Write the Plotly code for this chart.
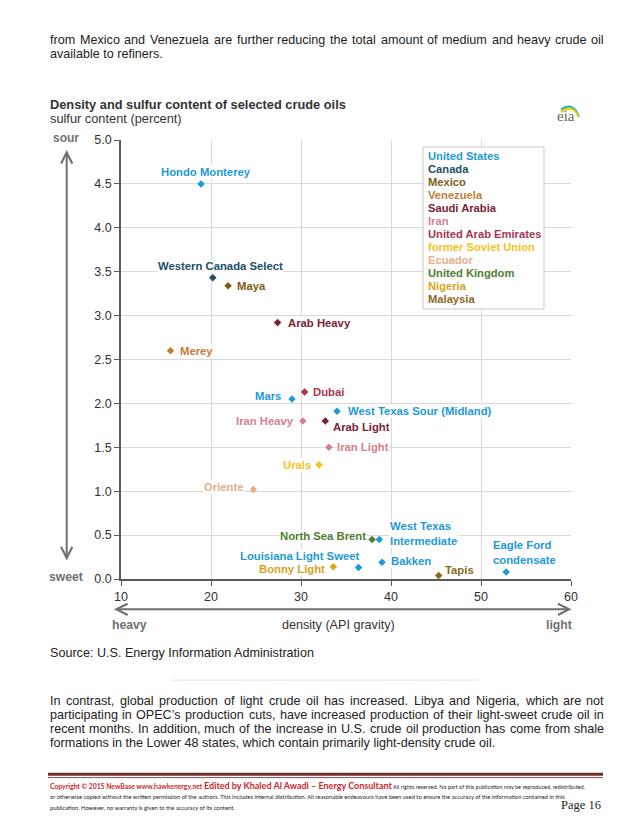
import plotly.graph_objects as go

# ---------------- data ----------------
countries = ["United States", "Canada", "Mexico", "Venezuela", "Saudi Arabia", "Iran",
             "United Arab Emirates", "former Soviet Union", "Ecuador", "United Kingdom",
             "Nigeria", "Malaysia"]
country_colors = ["#1e9ad6", "#1d4e6b", "#7d5c12", "#c27c36", "#7b2337", "#d6808f",
                  "#a8354f", "#f7c21a", "#e6ad8a", "#4e7d33", "#d6a51c", "#8a6a1c"]

crudes = ["Hondo Monterey", "Western Canada Select", "Maya", "Arab Heavy", "Merey", "Mars",
          "Dubai", "Iran Heavy", "Arab Light", "West Texas Sour (Midland)", "Iran Light",
          "Urals", "Oriente", "North Sea Brent", "West Texas Intermediate",
          "Louisiana Light Sweet", "Bonny Light", "Bakken", "Tapis", "Eagle Ford condensate"]
api_gravity = [18.9, 20.2, 21.9, 27.4, 15.5, 29.0, 30.4, 30.2, 32.7, 34.0, 33.1, 32.0,
               24.7, 37.9, 38.7, 36.4, 33.6, 39.0, 45.3, 52.8]
sulfur = [4.50, 3.43, 3.34, 2.92, 2.60, 2.05, 2.13, 1.80, 1.80, 1.91, 1.50, 1.30,
          1.02, 0.45, 0.45, 0.13, 0.14, 0.19, 0.04, 0.08]
origin = ["United States", "Canada", "Mexico", "Saudi Arabia", "Venezuela", "United States",
          "United Arab Emirates", "Iran", "Saudi Arabia", "United States", "Iran",
          "former Soviet Union", "Ecuador", "United Kingdom", "United States", "United States",
          "Nigeria", "United States", "Malaysia", "United States"]

x_ticks = [10, 20, 30, 40, 50, 60]
y_ticks = [0.0, 0.5, 1.0, 1.5, 2.0, 2.5, 3.0, 3.5, 4.0, 4.5, 5.0]

title_text = "Density and sulfur content of selected crude oils"
subtitle_text = "sulfur content (percent)"
x_title = "density (API gravity)"
source_text = "Source: U.S. Energy Information Administration"
para_top = ["from Mexico and Venezuela are further reducing the total amount of medium and heavy crude oil",
            "available to refiners."]
para_bottom = ["In contrast, global production of light crude oil has increased. Libya and Nigeria, which are not",
               "participating in OPEC\u2019s production cuts, have increased production of their light-sweet crude oil in",
               "recent months. In addition, much of the increase in U.S. crude oil production has come from shale",
               "formations in the Lower 48 states, which contain primarily light-density crude oil."]

# ---------------- label styles (text, xanchor, xshift, yshift) ----------------
label_style = {
    "Hondo Monterey": ("Hondo Monterey", "center", 4.5, 12.3),
    "Western Canada Select": ("Western Canada Select", "center", 8, 12.3),
    "Maya": ("Maya", "left", 8, 0),
    "Arab Heavy": ("Arab Heavy", "left", 9, 0),
    "Merey": ("Merey", "left", 8, 0),
    "Mars": ("Mars", "right", -10, 2.7),
    "Dubai": ("Dubai", "left", 7.7, 0),
    "Iran Heavy": ("Iran Heavy", "right", -7.7, 0),
    "Arab Light": ("Arab Light", "left", 6.4, -6),
    "West Texas Sour (Midland)": ("West Texas Sour (Midland)", "left", 10, 0),
    "Iran Light": ("Iran Light", "left", 7, 0),
    "Urals": ("Urals", "right", -7.3, 0),
    "Oriente": ("Oriente", "right", -8, 2),
    "North Sea Brent": ("North Sea Brent", "right", -5, 3.3),
    "West Texas Intermediate": ("West Texas<br>Intermediate", "left", 9.3, 5.8),
    "Louisiana Light Sweet": ("Louisiana Light Sweet", "right", 1, 12),
    "Bonny Light": ("Bonny Light", "right", -7.7, -2.4),
    "Bakken": ("Bakken", "left", 8.3, 1.6),
    "Tapis": ("Tapis", "left", 5.7, 5.7),
    "Eagle Ford condensate": ("Eagle Ford<br>condensate", "center", 18.4, 19.7),
}

# ---------------- page geometry ----------------
# the page body adds an 8px offset, so the figure is 8px smaller and shifted
OFF = 8
W, H = 638 - OFF, 826 - OFF
PL, PT, PW, PH = 121, 140, 450, 439          # plot area in page pixels
L, T = PL - OFF, PT - OFF
R = W - L - PW
B = H - T - PH


def px(x):
    return (x - PL) / PW


def py(y):
    return (PT + PH - y) / PH


SANS = "Liberation Sans, Arial, sans-serif"
color_of = dict(zip(countries, country_colors))

fig = go.Figure()
for c in countries:
    xs = [a for a, o in zip(api_gravity, origin) if o == c]
    ys = [s for s, o in zip(sulfur, origin) if o == c]
    nm = [n for n, o in zip(crudes, origin) if o == c]
    if not xs:
        continue
    fig.add_trace(go.Scatter(x=xs, y=ys, mode="markers", name=c, text=nm,
                             marker=dict(symbol="diamond", size=5.8, color=color_of[c]),
                             hovertemplate="%{text}<br>API %{x}<br>S %{y}%<extra></extra>",
                             showlegend=False))

ann = []
for n, a, s, o in zip(crudes, api_gravity, sulfur, origin):
    txt, xa, xs_, ys_ = label_style[n]
    ann.append(dict(x=a, y=s, xref="x", yref="y", text="<b>%s</b>" % txt, showarrow=False,
                    xanchor=xa, yanchor="middle", xshift=xs_, yshift=ys_, align="left",
                    bgcolor="white", borderpad=0,
                    font=dict(family=SANS, size=11.3, color=color_of[o])))

# legend (coloured text list)
for i, (c, col) in enumerate(zip(countries, country_colors)):
    ann.append(dict(x=px(426), y=py(155.7 + i * 13.06), xref="paper", yref="paper",
                    text="<b>%s</b>" % c, showarrow=False, xanchor="left", yanchor="middle",
                    font=dict(family=SANS, size=11.2, color=col)))

shapes = [
    dict(type="rect", xref="paper", yref="paper", x0=px(423), x1=px(544), y0=py(147), y1=py(309),
         line=dict(color="#c8c8c8", width=1), fillcolor="white", layer="above"),
]


def text_ann(x, y, text, size, color="#222", bold=False, xanchor="left", family=SANS):
    t = "<b>%s</b>" % text if bold else text
    return dict(x=px(x), y=py(y), xref="paper", yref="paper", text=t, showarrow=False,
                xanchor=xanchor, yanchor="middle", font=dict(family=family, size=size, color=color))


# Arial metrics for justification
AW = {' ': 278, '!': 278, '"': 355, '#': 556, '$': 556, '%': 889, '&': 667, "'": 191, '(': 333,
      ')': 333, '*': 389, '+': 584, ',': 278, '-': 333, '.': 278, '/': 278, ':': 278, ';': 278,
      '?': 556, '\u2019': 222, 'A': 667, 'B': 667, 'C': 722, 'D': 722, 'E': 667, 'F': 611,
      'G': 778, 'H': 722, 'I': 278, 'J': 500, 'K': 667, 'L': 556, 'M': 833, 'N': 722, 'O': 778,
      'P': 667, 'Q': 778, 'R': 722, 'S': 667, 'T': 611, 'U': 722, 'V': 667, 'W': 944, 'X': 667,
      'Y': 667, 'Z': 611, 'a': 556, 'b': 556, 'c': 500, 'd': 556, 'e': 556, 'f': 278, 'g': 556,
      'h': 556, 'i': 222, 'j': 222, 'k': 500, 'l': 222, 'm': 833, 'n': 556, 'o': 556, 'p': 556,
      'q': 556, 'r': 333, 's': 500, 't': 278, 'u': 556, 'v': 500, 'w': 722, 'x': 500, 'y': 500,
      'z': 500}
for d in "0123456789":
    AW[d] = 556


def word_w(w, size):
    return sum(AW.get(ch, 556) for ch in w) * size / 1000.0


def justified(line, x0, x1, y, size, color="#222"):
    words = line.split(" ")
    tot = sum(word_w(w, size) for w in words)
    gap = (x1 - x0 - tot) / (len(words) - 1)
    out = []
    x = x0
    for w in words:
        out.append(text_ann(x, y, w, size, color))
        x += word_w(w, size) + gap
    return out


BODY = 12.6
ann += justified(para_top[0], 48, 602, 40, BODY)
ann.append(text_ann(48, 54.3, para_top[1], BODY))
ann.append(text_ann(48, 104, title_text, 12.8, "#333", bold=True))
ann.append(text_ann(48, 118.7, subtitle_text, 12.8, "#333"))
ann.append(text_ann(566, 116, "eia", 15, "#666", xanchor="center",
                    family="Liberation Serif, Times New Roman, serif"))

ann.append(text_ann(65.5, 138, "sour", 12, "#707070", bold=True, xanchor="center"))
ann.append(text_ann(65.5, 577.3, "sweet", 12.2, "#707070", bold=True, xanchor="center"))
ann.append(text_ann(129.7, 624.5, "heavy", 12.2, "#707070", bold=True, xanchor="center"))
ann.append(text_ann(558.7, 624.5, "light", 12.2, "#707070", bold=True, xanchor="center"))
ann.append(text_ann(338, 624.5, x_title, 12.6, "#333", xanchor="center"))

# double-headed arrows (open chevron heads)
ann.append(dict(x=px(66.7), y=py(150), xref="paper", yref="paper", ax=0, ay=412,
                axref="pixel", ayref="pixel", showarrow=True, text="", arrowhead=5,
                arrowside="end+start", arrowsize=1.1, arrowwidth=2, arrowcolor="#707070",
                startarrowhead=5, startarrowsize=1.1))
ann.append(dict(x=px(571.5), y=py(609.3), xref="paper", yref="paper", ax=-459, ay=0,
                axref="pixel", ayref="pixel", showarrow=True, text="", arrowhead=5,
                arrowside="end+start", arrowsize=1.1, arrowwidth=2, arrowcolor="#707070",
                startarrowhead=5, startarrowsize=1.1))

ann.append(text_ann(48, 653, source_text, BODY))
shapes.append(dict(type="line", xref="paper", yref="paper", x0=px(172), x1=px(479),
                   y0=py(680), y1=py(680), line=dict(color="#e2e2e2", width=1)))

for i, line in enumerate(para_bottom):
    yy = 701 + i * 14.1
    if i < len(para_bottom) - 1:
        ann += justified(line, 48, 602, yy, BODY)
    else:
        ann.append(text_ann(48, yy, line, BODY))

# footer
shapes.append(dict(type="line", xref="paper", yref="paper", x0=px(48), x1=px(603),
                   y0=py(774.3), y1=py(774.3), line=dict(color="#6e2f2f", width=3)))
shapes.append(dict(type="line", xref="paper", yref="paper", x0=px(48), x1=px(603),
                   y0=py(777.6), y1=py(777.6), line=dict(color="#8c4a4a", width=1)))
FOOT = "Lato, Open Sans, sans-serif"
foot1 = ("<span style='font-size:6.8px;font-weight:bold;fill:#c8282e'>Copyright \u00a9 2015 NewBase www.hawkenergy.net </span>"
         "<span style='font-size:9px;font-weight:bold;fill:#c8282e'>Edited by Khaled Al Awadi \u2013 Energy Consultant</span>"
         "<span style='font-size:5.5px;fill:#222'> All rights reserved. No part of this publication may be reproduced, redistributed,</span>")
ann.append(dict(x=px(48), y=py(785), xref="paper", yref="paper", text=foot1, showarrow=False,
                xanchor="left", yanchor="middle", font=dict(family=FOOT, size=7, color="#222")))
ann.append(text_ann(48, 796, "or otherwise copied without the written permission of the authors. This includes internal distribution. "
                    "All reasonable endeavours have been used to ensure the accuracy of the information contained in this",
                    5.8, "#222", family=FOOT))
ann.append(text_ann(48, 807.5, "publication. However, no warranty is given to the accuracy of its content.",
                    5.8, "#222", family=FOOT))
ann.append(text_ann(603, 805, "Page 16", 12.5, "#222", xanchor="right",
                    family="Liberation Serif, Times New Roman, serif"))

# eia swoosh
for off, col in [(0, "#2b9fd8"), (1.6, "#8cc63f"), (3.2, "#f5d017")]:
    path = "M %f,%f Q %f,%f %f,%f" % (px(561), py(109 + off), px(574), py(101 + off),
                                      px(579 - off * 0.3), py(117))
    shapes.append(dict(type="path", xref="paper", yref="paper", path=path,
                       line=dict(color=col, width=1.6)))

fig.update_layout(
    width=W, height=H, autosize=False,
    margin=dict(l=L, r=R, t=T, b=B, pad=0),
    paper_bgcolor="white", plot_bgcolor="white",
    font=dict(family=SANS, color="#333"),
    xaxis=dict(range=[10, 60], tickvals=x_ticks, ticktext=[str(v) for v in x_ticks],
               showgrid=True, gridcolor="#dadada", gridwidth=1, zeroline=False,
               showline=True, linecolor="#5a5a5a", linewidth=1.5, ticks="outside",
               ticklen=5, tickcolor="#5a5a5a", tickfont=dict(size=12.5, color="#333"),
               fixedrange=True),
    yaxis=dict(range=[0, 5], tickvals=y_ticks, ticktext=["%.1f" % v for v in y_ticks],
               showgrid=True, gridcolor="#dadada", gridwidth=1, zeroline=False,
               showline=True, linecolor="#5a5a5a", linewidth=1.5, ticks="outside",
               ticklen=5, tickcolor="#5a5a5a", tickfont=dict(size=12.5, color="#333"),
               fixedrange=True),
    annotations=ann, shapes=shapes, showlegend=False,
)

fig.write_html("out.html")
